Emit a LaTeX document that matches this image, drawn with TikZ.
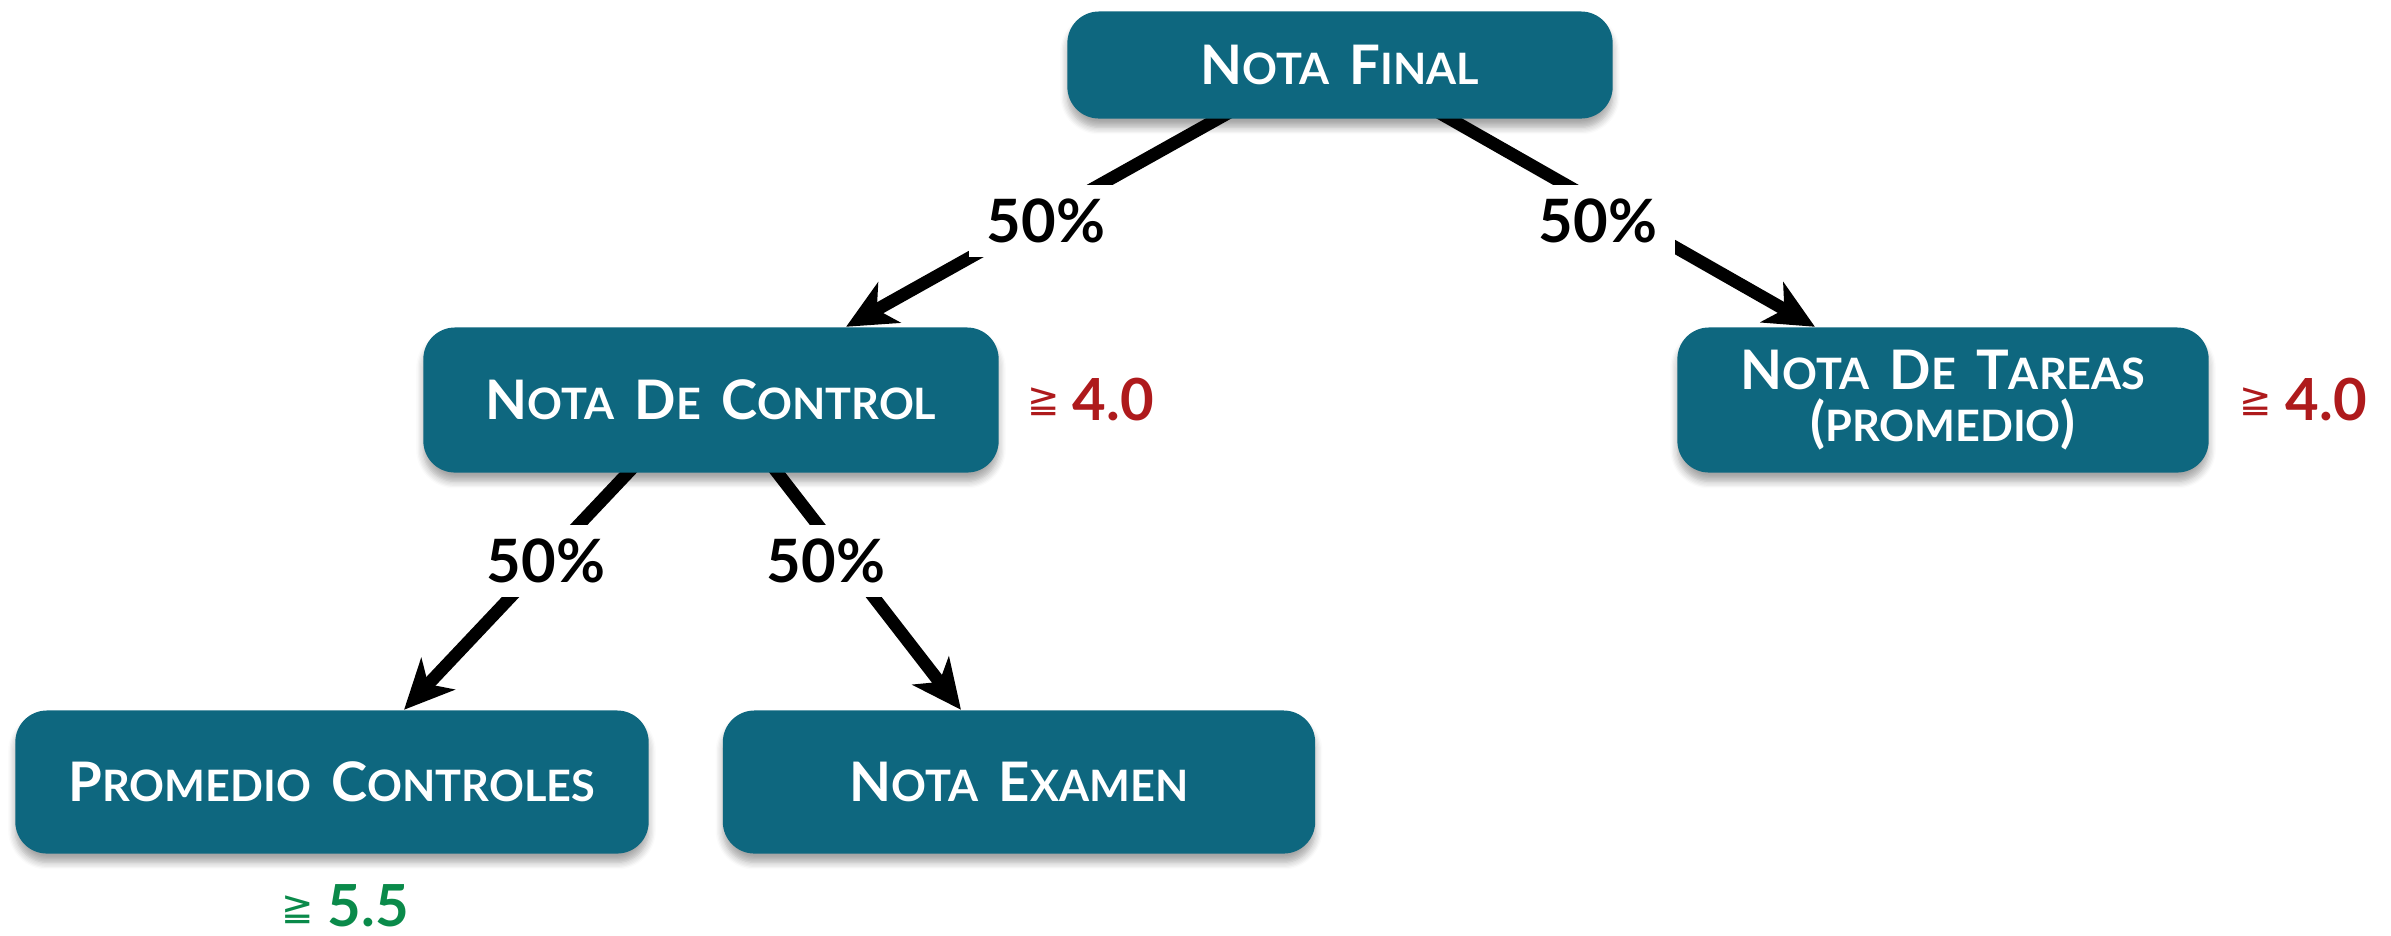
\documentclass[tikz,border=0pt]{standalone}
\usepackage{fontspec}
\setmainfont{Lato}
\newfontfamily\symfont{DejaVu Sans}
\usetikzlibrary{arrows.meta,shadows.blur,backgrounds}
\definecolor{boxteal}{HTML}{0E677F}
\definecolor{limred}{HTML}{AE1A1C}
\definecolor{limgreen}{HTML}{0A8A4A}
\newcommand\SCbig{\fontsize{15.5}{15}\selectfont}
\newcommand\SCsmall{\fontsize{12.3}{15}\selectfont}
\newcommand\SCw[2]{{\SCbig #1}{\SCsmall #2}}
\tikzset{
  boxnode/.style={rectangle, rounded corners=9pt, fill=boxteal, text=white,
    font=\fontsize{15.5}{15}\selectfont\bfseries, align=center,
    blur shadow={shadow xshift=0pt, shadow yshift=-2.5pt, shadow blur steps=6, shadow opacity=35}},
  arr/.style={line width=3.6pt, -{Stealth[length=14pt,width=13pt,inset=4pt]}},
  pct/.style={fill=white, font=\fontsize{17}{19}\selectfont\bfseries, inner xsep=5pt, inner ysep=4pt},
  limit/.style={font=\fontsize{16.5}{17}\selectfont\bfseries, inner sep=0pt},
  geq/.style={font=\symfont\fontsize{11}{13}\selectfont, inner sep=0pt}
}
\begin{document}
\begin{tikzpicture}[x=0.01cm,y=-0.01cm]
\useasboundingbox (0,0) rectangle (2391,935);
\node[boxnode, minimum width=5.45cm, minimum height=1.07cm] (nf) at (1340,65)
  {\SCw{N}{OTA}\hspace{2pt} \SCw{F}{INAL}};
\node[boxnode, minimum width=5.75cm, minimum height=1.45cm] (ndc) at (711,400)
  {\SCw{N}{OTA}\hspace{2pt} \SCw{D}{E}\hspace{2pt} \SCw{C}{ONTROL}};
\node[boxnode, minimum width=5.31cm, minimum height=1.45cm] (ndt) at (1943,400)
  {\SCw{N}{OTA}\hspace{2pt} \SCw{D}{E}\hspace{2pt} \SCw{T}{AREAS}\\{\SCbig(}{\SCsmall PROMEDIO}{\SCbig)}};
\node[boxnode, minimum width=6.33cm, minimum height=1.43cm] (pc) at (332,782)
  {\SCw{P}{ROMEDIO}\hspace{2pt} \SCw{C}{ONTROLES}};
\node[boxnode, minimum width=5.92cm, minimum height=1.43cm] (ne) at (1019,782)
  {\SCw{N}{OTA}\hspace{2pt} \SCw{E}{XAMEN}};
\begin{scope}[on background layer]
  \draw[arr] ([xshift=-1.05cm,yshift=0.1cm]nf.south) -- ([xshift=1.35cm]ndc.north);
  \draw[arr] ([xshift=0.93cm,yshift=0.1cm]nf.south) -- ([xshift=-1.28cm]ndt.north);
  \draw[arr] ([xshift=-0.74cm,yshift=0.1cm]ndc.south) -- ([xshift=0.72cm]pc.north);
  \draw[arr] ([xshift=0.59cm,yshift=0.1cm]ndc.south) -- ([xshift=-0.58cm]ne.north);
\end{scope}
\node[pct] (p1) at (1046,221) {50\%};
\node[pct] (p2) at (1598,221) {50\%};
\node[pct] (p3) at (546,561) {50\%};
\node[pct] (p4) at (826,561) {50\%};
\node[geq, text=limred] (g1) at (1044,402) {≧};
\node[limit, text=limred, anchor=west] (l1) at (1072,400) {4.0};
\node[geq, text=limred] (g2) at (2256,402) {≧};
\node[limit, text=limred, anchor=west] (l2) at (2285,400) {4.0};
\node[geq, text=limgreen] (g3) at (298,910) {≧};
\node[limit, text=limgreen, anchor=west] (l3) at (327,906) {5.5};
\end{tikzpicture}
\end{document}
